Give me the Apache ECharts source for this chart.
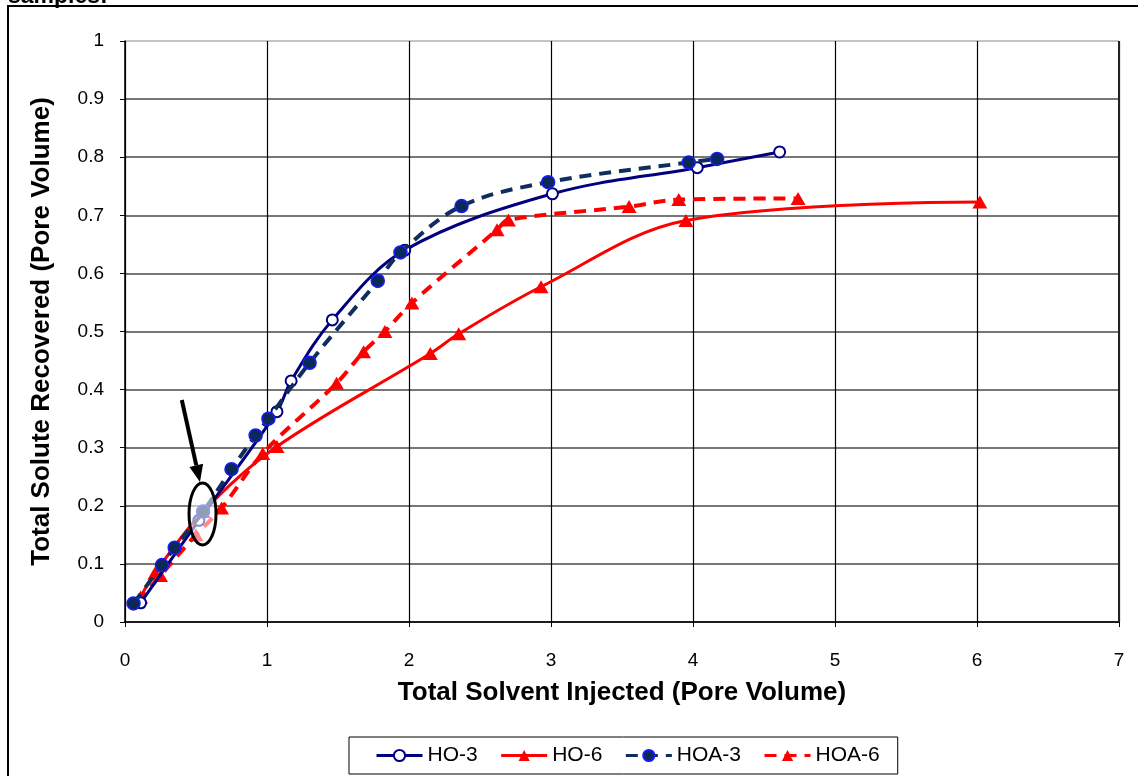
<!DOCTYPE html>
<html>
<head>
<meta charset="utf-8">
<script src="https://cdn.jsdelivr.net/npm/echarts@6/dist/echarts.min.js"></script>
<style>
  html, body { margin: 0; padding: 0; background: #fff; }
  #chart { width: 1138px; height: 776px; }
</style>
</head>
<body>
<div id="chart"></div>
<script>
// Cumulative solute recovery vs. solvent injected (pore volumes)
const HO3_X  = [0.11, 0.52, 1.07, 1.17, 1.46, 1.97, 3.01, 4.03, 4.61];
const HO3_Y  = [0.033, 0.175, 0.362, 0.415, 0.52, 0.64, 0.737, 0.782, 0.809];

const HO6_X  = [0.11, 0.21, 0.55, 1.07, 2.15, 2.35, 2.93, 3.95, 6.02];
const HO6_Y  = [0.043, 0.084, 0.19, 0.302, 0.462, 0.496, 0.577, 0.691, 0.723];

const HOA3_X = [0.06, 0.26, 0.35, 0.55, 0.75, 0.92, 1.01, 1.30, 1.78, 1.94, 2.37, 2.98, 3.97, 4.17];
const HOA3_Y = [0.032, 0.098, 0.128, 0.19, 0.263, 0.321, 0.350, 0.446, 0.587, 0.636, 0.716, 0.757, 0.791, 0.797];

const HOA6_X = [0.09, 0.25, 0.50, 0.68, 0.97, 1.49, 1.68, 1.83, 2.02, 2.62, 2.70, 3.55, 3.90, 4.74];
const HOA6_Y = [0.035, 0.08, 0.15, 0.196, 0.29, 0.411, 0.465, 0.500, 0.549, 0.675, 0.692, 0.715, 0.727, 0.729];

const X_TICKS = [0, 1, 2, 3, 4, 5, 6, 7];
const Y_TICKS = [0, 0.1, 0.2, 0.3, 0.4, 0.5, 0.6, 0.7, 0.8, 0.9, 1];

// Highlighted early-time region and the arrow pointing at it (data coordinates)
const NOTE_CENTER = [0.546, 0.186];
const ARROW_FROM = [0.40, 0.382];
const ARROW_TO = [0.528, 0.241];

const FONT = '"Liberation Sans", Arial, sans-serif';
const pairs = (xs, ys) => xs.map((x, i) => [x, ys[i]]);

const chart = echarts.init(document.getElementById('chart'), null, { renderer: 'canvas' });

// top gridline is drawn lighter than the others
const gridColors = Y_TICKS.map((v, i) => (i === Y_TICKS.length - 1 ? '#b0b0b0' : '#4a4a4a'));

const option = {
  backgroundColor: '#fff',
  animation: false,
  textStyle: { fontFamily: FONT },
  grid: { left: 125, right: 19, top: 41, bottom: 154 },
  legend: {
    bottom: 2,
    left: 349,
    padding: [8, 18, 8, 26],
    borderColor: '#000',
    borderWidth: 1,
    itemWidth: 46,
    itemHeight: 14,
    itemGap: 22,
    lineStyle: { width: 3 },
    textStyle: { fontFamily: FONT, fontSize: 21, color: '#000' },
    data: ['HO-3', 'HO-6', 'HOA-3', 'HOA-6']
  },
  xAxis: {
    type: 'value',
    min: X_TICKS[0],
    max: X_TICKS[X_TICKS.length - 1],
    interval: 1,
    name: 'Total Solvent Injected (Pore Volume)',
    nameLocation: 'middle',
    nameGap: 58,
    nameTextStyle: { fontFamily: FONT, fontSize: 26, fontWeight: 'bold', color: '#000' },
    axisLine: { lineStyle: { color: '#000', width: 1.5 } },
    axisTick: { show: true, inside: false, length: 5, lineStyle: { color: '#000' } },
    axisLabel: { fontFamily: FONT, fontSize: 19, color: '#000', margin: 29 },
    splitLine: { show: true, lineStyle: { color: '#000', width: 1.2 } }
  },
  yAxis: {
    type: 'value',
    min: 0,
    max: 1,
    interval: 0.1,
    name: 'Total Solute Recovered (Pore Volume)',
    nameLocation: 'middle',
    nameGap: 70,
    nameRotate: 90,
    nameTextStyle: { fontFamily: FONT, fontSize: 26, fontWeight: 'bold', color: '#000' },
    axisLine: { show: true, lineStyle: { color: '#000', width: 1.5 } },
    axisTick: { show: true, inside: false, length: 5, lineStyle: { color: '#000' } },
    axisLabel: { fontFamily: FONT, fontSize: 19, color: '#000', margin: 21 },
    splitLine: { show: true, lineStyle: { color: gridColors, width: 1.5 } }
  },
  series: [
    {
      name: 'HO-3',
      type: 'line',
      data: pairs(HO3_X, HO3_Y),
      smooth: 0.35,
      symbol: 'emptyCircle',
      symbolSize: 11,
      lineStyle: { color: '#000080', width: 3 },
      itemStyle: { color: '#000080', borderColor: '#1010a0', borderWidth: 1 },
      z: 3
    },
    {
      name: 'HO-6',
      type: 'line',
      data: pairs(HO6_X, HO6_Y),
      smooth: 0.35,
      symbol: 'triangle',
      symbolSize: [15, 13],
      lineStyle: { color: '#ff0000', width: 3 },
      itemStyle: { color: '#ff0000' },
      z: 2
    },
    {
      name: 'HOA-3',
      type: 'line',
      data: pairs(HOA3_X, HOA3_Y),
      smooth: 0.35,
      symbol: 'circle',
      symbolSize: 13,
      lineStyle: { color: '#0f2e5e', width: 4, type: [12, 8] },
      itemStyle: { color: '#0a2858', borderColor: '#1a1aff', borderWidth: 1.5 },
      z: 4
    },
    {
      name: 'HOA-6',
      type: 'line',
      data: pairs(HOA6_X, HOA6_Y),
      smooth: 0.35,
      symbol: 'triangle',
      symbolSize: [15, 13],
      lineStyle: { color: '#ff0000', width: 4, type: [12, 8] },
      itemStyle: { color: '#ff0000' },
      z: 2
    }
  ]
};

chart.setOption(option);

// Annotation: ellipse around the early overlap region plus an arrow pointing at it
function drawNotes() {
  const c = chart.convertToPixel({ gridIndex: 0 }, NOTE_CENTER);
  const a = chart.convertToPixel({ gridIndex: 0 }, ARROW_FROM);
  const b = chart.convertToPixel({ gridIndex: 0 }, ARROW_TO);
  const dx = b[0] - a[0], dy = b[1] - a[1];
  const len = Math.sqrt(dx * dx + dy * dy);
  const ux = dx / len, uy = dy / len;
  const headLen = 17, headHalf = 7;
  const base = [b[0] - ux * headLen, b[1] - uy * headLen];
  const nx = -uy, ny = ux;

  chart.setOption({
    graphic: [
      {
        type: 'text',
        left: 8, top: -15,
        style: { text: 'samples:', font: 'bold 23px ' + FONT, fill: '#000' },
        z: 10
      },
      {
        type: 'rect',
        shape: { x: 8, y: 6, width: 1140, height: 790 },
        style: { fill: null, stroke: '#000', lineWidth: 2 },
        silent: true, z: 10
      },
      {
        type: 'line',
        shape: { x1: 1119, y1: 41, x2: 1119, y2: 622 },
        style: { stroke: '#222', lineWidth: 2 },
        silent: true, z: 10
      },
      {
        type: 'ellipse',
        shape: { cx: c[0], cy: c[1], rx: 13.5, ry: 31 },
        style: { fill: 'rgba(255,255,255,0.55)', stroke: '#000', lineWidth: 3 },
        silent: true, z: 20
      },
      {
        type: 'line',
        shape: { x1: a[0], y1: a[1], x2: base[0], y2: base[1] },
        style: { stroke: '#000', lineWidth: 4 },
        silent: true, z: 20
      },
      {
        type: 'polygon',
        shape: {
          points: [
            [b[0], b[1]],
            [base[0] + nx * headHalf, base[1] + ny * headHalf],
            [base[0] - nx * headHalf, base[1] - ny * headHalf]
          ]
        },
        style: { fill: '#000' },
        silent: true, z: 20
      }
    ]
  });
}
drawNotes();
</script>
</body>
</html>
